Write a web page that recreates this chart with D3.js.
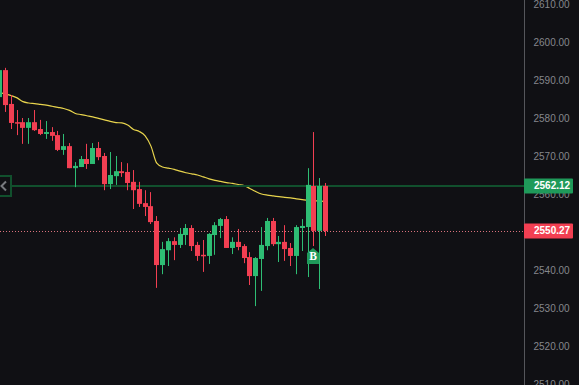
<!DOCTYPE html>
<html>
<head>
<meta charset="utf-8">
<script src="https://cdn.jsdelivr.net/npm/d3@7/dist/d3.min.js"></script>
<style>
html,body{margin:0;padding:0;background:#101014;overflow:hidden}
svg{display:block}
</style>
</head>
<body>
<svg id="chart" width="579" height="385"></svg>
<script>
const indices = [-1,0,1,2,3,4,5,6,7,8,9,10,11,12,13,14,15,16,17,18,19,20,21,22,23,24,25,26,27,28,29,30,31,32,33,34,35,36,37,38,39,40,41,42,43,44,45,46,47,48,49,50,51,52,53,54,55];
const opens = [2585.5,2592.6,2583.7,2578.9,2578.9,2577.4,2578.9,2577.1,2575.8,2576.3,2575.5,2571.6,2572.6,2566.8,2567.1,2569.2,2567.9,2572.1,2570,2562.6,2564.7,2566,2565.8,2563.2,2561.3,2557.6,2556.8,2552.9,2541.3,2545.2,2547.6,2546.6,2549.2,2551.05,2546.6,2544,2543.7,2549.2,2551.6,2553.4,2545.8,2547.4,2546.3,2543.4,2538.4,2542.9,2546.3,2552.9,2546.8,2547.4,2545.8,2543.7,2551.05,2551.3,2562.1,2550.3,2562.12];
const closes = [2592.6,2583.4,2578.7,2578.7,2577.4,2578.9,2576.8,2575.8,2576.3,2575.3,2571.6,2572.6,2566.8,2567.4,2569.2,2567.9,2572.1,2569.7,2562.6,2565,2566,2565.5,2562.9,2561,2557.4,2556.6,2552.6,2541.3,2545.5,2547.6,2546.6,2549.5,2551.05,2546.3,2543.7,2543.7,2549.5,2551.8,2553.4,2545.8,2547.4,2546.05,2543.15,2538.4,2543.15,2546.6,2552.9,2546.8,2547.4,2545.5,2543.7,2551.3,2551.6,2562.4,2550.3,2562.12,2550.27];
const highs = [2593.2,2593.2,2586.05,2582.1,2580,2580,2582.1,2579.5,2579.2,2577.6,2576.6,2575.8,2573.4,2568.4,2570,2573.2,2573.4,2573.7,2570.8,2571.05,2570,2568.4,2568.1,2566.3,2563.2,2561,2560.5,2554.2,2547.4,2548.4,2548.6,2551.05,2552.1,2551.8,2547.4,2547.9,2549.7,2552.6,2553.7,2554.2,2548.6,2550.8,2546.8,2544.7,2543.4,2551.3,2553.7,2553.7,2548.95,2551.8,2547.1,2551.8,2553.4,2566.8,2576.3,2564.2,2562.9];
const lows = [2585,2581.6,2577.1,2575.5,2573.2,2573.2,2576.6,2575.5,2574.5,2574,2571.3,2570.3,2566.8,2561.8,2567.1,2566.6,2567.9,2568.9,2561,2561.3,2562.4,2564.5,2561,2556.05,2556.6,2554.2,2552.1,2535.3,2538.9,2541.05,2542.6,2545.8,2546.6,2545,2542.4,2539.5,2541.6,2544,2548.4,2545.8,2544.2,2545.2,2541.8,2536.05,2530.5,2534.5,2545.2,2546.3,2542.1,2542.4,2541.05,2538.9,2545,2538.15,2546.3,2535,2548.95];
const maValues = [2586.6,2586.3,2585.9,2585.3,2584.3,2583.95,2583.8,2583.6,2583.4,2583.1,2582.8,2582.5,2582,2581.2,2580.9,2580.6,2580.3,2579.9,2579.5,2579.1,2578.8,2578.7,2578.15,2577,2576.45,2575.3,2572.6,2568.1,2567.1,2566.8,2566.5,2566,2565.6,2565.3,2565,2564.5,2564,2563.6,2563.3,2563,2562.8,2562.5,2562.25,2561.45,2560.65,2560,2559.7,2559.5,2559.3,2559.1,2559,2558.7,2558.5,2558.35,2558.2,2558.15,2558.07];
const tickValues = [2510,2520,2530,2540,2550,2560,2570,2580,2590,2600,2610];
const linePrice = 2562.12;
const lastPrice = 2550.27;
const buyIndex = 53;
const buyPrice = 2543.05;
const buyLabel = "B";

const W = 579, H = 385, axisX = 524;
const UP = "#2ebd74", DOWN = "#f23f52", BG = "#101014", LINE = "#11502d";
const x = d3.scaleLinear().domain([0, 55]).range([5.5, 325.5]);
const y = d3.scaleLinear().domain([2600, 2500]).range([42, 422]);

const svg = d3.select("#chart").style("font-family", "'Liberation Sans',Arial,sans-serif");
svg.append("rect").attr("width", W).attr("height", H).attr("fill", BG);

// moving average below candles
svg.append("path")
  .attr("d", d3.line().x((d, i) => x(indices[i])).y(d => y(d)).curve(d3.curveMonotoneX)(maValues))
  .attr("fill", "none").attr("stroke", "#e8d44d").attr("stroke-width", 1.2);

// last price dotted line
svg.append("line").attr("x1", 0).attr("x2", axisX).attr("y1", Math.round(y(lastPrice)) + 0.5).attr("y2", Math.round(y(lastPrice)) + 0.5)
  .attr("stroke", "#d9727c").attr("stroke-width", 1).attr("stroke-dasharray", "1 2");

// position line
svg.append("line").attr("x1", 11).attr("x2", axisX).attr("y1", Math.round(y(linePrice))).attr("y2", Math.round(y(linePrice)))
  .attr("stroke", LINE).attr("stroke-width", 2);
svg.append("rect").attr("x", -1).attr("y", 176).attr("width", 12).attr("height", 20)
  .attr("fill", BG).attr("stroke", LINE).attr("stroke-width", 2);
svg.append("path").attr("d", d3.line()([[6, 181.5], [1.5, 186], [6, 190.5]]))
  .attr("fill", "none").attr("stroke", "#77797e").attr("stroke-width", 2);

// candles
const candles = svg.append("g").selectAll("g").data(indices).join("g")
  .attr("fill", (d, i) => closes[i] >= opens[i] ? UP : DOWN);
candles.append("rect")
  .attr("x", d => Math.round(x(d) - 2.5) + 2).attr("width", 1)
  .attr("y", (d, i) => y(highs[i])).attr("height", (d, i) => y(lows[i]) - y(highs[i]));
candles.append("rect")
  .attr("x", d => Math.round(x(d) - 2.5)).attr("width", 5)
  .attr("y", (d, i) => y(Math.max(opens[i], closes[i])))
  .attr("height", (d, i) => Math.max(1.5, Math.abs(y(opens[i]) - y(closes[i]))));

// buy marker
const bx = Math.floor(x(buyIndex)), by = y(buyPrice);
svg.append("path")
  .attr("d", d3.line()([[bx - 6, by - 5.5], [bx, by - 10.5], [bx + 6, by - 5.5], [bx + 6, by + 5.5], [bx - 6, by + 5.5]]) + "Z")
  .attr("fill", "#1f9a5a");
svg.append("text").attr("x", bx).attr("y", by + 1.8).attr("text-anchor", "middle")
  .attr("fill", "#fff").attr("font-family", "'Liberation Serif',serif").attr("font-weight", "bold").attr("font-size", 11.5).text(buyLabel);

// axis
const axis = d3.axisRight(y).tickValues(tickValues).tickFormat(d3.format(".2f")).tickSize(0).tickPadding(9);
const ag = svg.append("g").attr("transform", `translate(${axisX + 0.5},0)`).call(axis);
ag.select(".domain").remove();
ag.selectAll("text").attr("fill", "#85878c").attr("font-size", 10).attr("font-family", "'Liberation Sans',Arial,sans-serif");
svg.append("line").attr("x1", axisX + 0.5).attr("x2", axisX + 0.5).attr("y1", 0).attr("y2", H).attr("stroke", "#55565b");

// price labels
[[linePrice, "#1f9a5a"], [lastPrice, DOWN]].forEach(([p, c]) => {
  const py = y(p);
  svg.append("rect").attr("x", axisX).attr("y", Math.round(py) - 7.5).attr("width", 49).attr("height", 15).attr("rx", 1).attr("fill", c);
  svg.append("text").attr("x", 534).attr("y", py + 3.5).attr("fill", "#fff").attr("font-weight", "bold").attr("font-size", 10).text(d3.format(".2f")(p));
});
</script>
</body>
</html>
